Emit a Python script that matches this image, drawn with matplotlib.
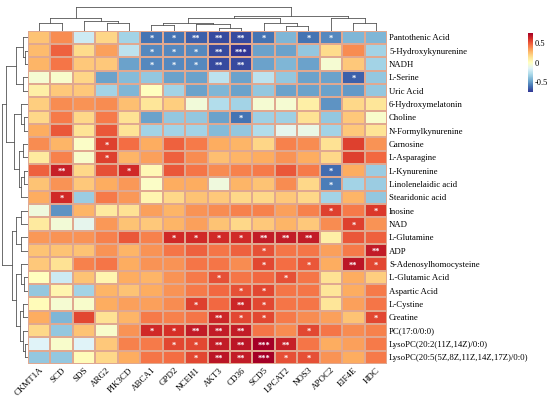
"""Clustered correlation heatmap: metabolites vs. genes, with significance stars."""

import matplotlib

matplotlib.use("Agg")

import matplotlib.pyplot as plt
import numpy as np

genes = ["CKMT1A", "SCD", "SDS", "ARG2", "PIK3CD", "ABCA1", "GPD2", "NCEH1",
         "AKT3", "CD36", "SCD5", "LPCAT2", "NOS3", "APOC2", "EIF4E", "HDC"]

metabolites = [
    "Pantothenic Acid", "5-Hydroxykynurenine", "NADH", "L-Serine", "Uric Acid",
    "6-Hydroxymelatonin", "Choline", "N-Formylkynurenine", "Carnosine",
    "L-Asparagine", "L-Kynurenine", "Linolenelaidic acid", "Stearidonic acid",
    "Inosine", "NAD", "L-Glutamine", "ADP", "S-Adenosylhomocysteine",
    "L-Glutamic Acid", "Aspartic Acid", "L-Cystine", "Creatine", "PC(17:0/0:0)",
    "LysoPC(20:2(11Z,14Z)/0:0)", "LysoPC(20:5(5Z,8Z,11Z,14Z,17Z)/0:0)",
]

corr = np.array([
    [0.24, 0.38, -0.20, 0.18, -0.32, -0.60, -0.60, -0.65, -0.70, -0.70, -0.60, -0.42, -0.60, -0.55, -0.42, -0.42],
    [0.26, 0.48, 0.16, 0.33, -0.25, -0.55, -0.55, -0.55, -0.70, -0.80, -0.48, -0.48, -0.36, 0.16, 0.38, -0.32],
    [0.28, 0.43, 0.22, 0.22, -0.48, -0.55, -0.55, -0.55, -0.70, -0.70, -0.48, -0.42, -0.48, -0.05, 0.22, -0.32],
    [-0.05, -0.03, 0.18, -0.48, -0.40, -0.36, -0.48, -0.48, -0.25, -0.48, -0.25, -0.36, -0.48, -0.48, -0.65, -0.36],
    [0.08, 0.22, 0.22, -0.32, -0.42, 0.00, -0.32, -0.48, -0.42, -0.48, -0.36, -0.48, -0.48, -0.48, -0.50, -0.36],
    [0.20, 0.38, 0.36, 0.38, 0.25, 0.12, 0.20, -0.07, -0.28, -0.32, -0.05, -0.05, 0.08, -0.52, 0.17, 0.12],
    [0.17, 0.42, 0.17, 0.42, 0.14, -0.48, -0.36, -0.36, -0.48, -0.60, -0.33, -0.33, 0.14, -0.36, 0.22, -0.03],
    [0.30, 0.50, 0.13, 0.50, 0.13, -0.32, -0.32, -0.32, -0.40, -0.36, -0.28, -0.12, -0.10, -0.32, 0.22, 0.13],
    [0.38, 0.28, -0.02, 0.56, 0.45, 0.30, 0.48, 0.42, 0.30, 0.28, 0.18, 0.40, 0.38, 0.14, 0.56, 0.36],
    [0.10, 0.40, -0.03, 0.56, 0.28, 0.33, 0.48, 0.38, 0.25, 0.28, 0.30, 0.36, 0.30, 0.17, 0.56, 0.46],
    [0.48, 0.65, 0.17, 0.52, 0.62, 0.03, 0.50, 0.43, 0.38, 0.40, 0.42, 0.50, 0.42, -0.62, 0.30, -0.34],
    [0.24, 0.36, 0.22, 0.30, 0.35, -0.02, 0.30, 0.30, -0.08, 0.28, 0.24, 0.38, 0.17, -0.58, -0.32, -0.34],
    [0.30, 0.62, -0.34, 0.42, 0.35, 0.05, 0.17, 0.24, 0.22, 0.17, 0.17, 0.22, 0.17, -0.32, 0.28, -0.36],
    [-0.08, -0.52, 0.28, 0.10, 0.14, 0.33, 0.28, 0.36, 0.38, 0.40, 0.40, 0.33, 0.40, 0.56, 0.42, 0.58],
    [0.10, -0.06, -0.12, 0.35, 0.24, 0.22, 0.28, 0.33, 0.24, 0.17, 0.22, 0.28, 0.22, 0.38, 0.56, 0.36],
    [0.35, 0.36, 0.36, 0.40, 0.50, 0.40, 0.62, 0.62, 0.62, 0.62, 0.66, 0.66, 0.66, 0.08, 0.50, 0.48],
    [0.24, 0.24, 0.24, 0.36, 0.28, 0.36, 0.43, 0.48, 0.43, 0.48, 0.52, 0.43, 0.43, 0.33, 0.42, 0.66],
    [0.22, 0.14, 0.40, 0.43, 0.30, 0.36, 0.36, 0.43, 0.43, 0.38, 0.54, 0.45, 0.50, 0.30, 0.68, 0.54],
    [0.00, -0.20, 0.24, 0.05, 0.30, 0.28, 0.36, 0.42, 0.52, 0.43, 0.46, 0.52, 0.43, 0.14, 0.30, 0.20],
    [-0.36, 0.05, -0.32, 0.28, 0.24, 0.30, 0.36, 0.42, 0.46, 0.52, 0.54, 0.43, 0.43, 0.12, 0.30, 0.42],
    [0.02, -0.05, -0.03, 0.30, 0.33, 0.33, 0.38, 0.56, 0.46, 0.63, 0.54, 0.43, 0.43, 0.12, 0.33, 0.43],
    [0.30, -0.42, 0.54, 0.14, 0.28, 0.42, 0.40, 0.43, 0.63, 0.54, 0.54, 0.42, 0.38, 0.33, 0.24, 0.54],
    [0.17, -0.36, 0.24, -0.03, 0.36, 0.62, 0.60, 0.66, 0.66, 0.66, 0.43, 0.38, 0.54, 0.43, 0.38, 0.40],
    [-0.15, -0.03, -0.15, 0.22, 0.40, 0.42, 0.54, 0.54, 0.66, 0.68, 0.75, 0.65, 0.43, 0.30, 0.33, 0.42],
    [-0.36, -0.36, 0.02, 0.17, 0.30, 0.43, 0.45, 0.54, 0.68, 0.66, 0.75, 0.52, 0.52, 0.36, 0.30, 0.42],
])

# significance stars as (row, col, label)
stars = [
    (0, 5, "*"), (0, 6, "*"), (0, 7, "**"), (0, 8, "**"), (0, 9, "**"), (0, 10, "*"), (0, 12, "*"), (0, 13, "*"),
    (1, 5, "*"), (1, 6, "*"), (1, 7, "*"), (1, 8, "**"), (1, 9, "***"),
    (2, 5, "*"), (2, 6, "*"), (2, 7, "*"), (2, 8, "**"), (2, 9, "**"),
    (3, 14, "*"), (6, 9, "*"), (8, 3, "*"), (9, 3, "*"),
    (10, 1, "**"), (10, 4, "*"), (10, 13, "*"), (11, 13, "*"), (12, 1, "*"),
    (13, 13, "*"), (13, 15, "*"), (14, 14, "*"),
    (15, 6, "*"), (15, 7, "*"), (15, 8, "*"), (15, 9, "*"), (15, 10, "**"), (15, 11, "**"), (15, 12, "**"),
    (16, 10, "*"), (16, 15, "**"),
    (17, 10, "*"), (17, 12, "*"), (17, 14, "**"), (17, 15, "*"),
    (18, 8, "*"), (18, 11, "*"), (19, 9, "*"), (19, 10, "*"),
    (20, 7, "*"), (20, 9, "**"), (20, 10, "*"),
    (21, 8, "**"), (21, 9, "*"), (21, 10, "*"), (21, 15, "*"),
    (22, 5, "*"), (22, 6, "*"), (22, 7, "**"), (22, 8, "**"), (22, 9, "**"), (22, 12, "*"),
    (23, 6, "*"), (23, 7, "*"), (23, 8, "**"), (23, 9, "**"), (23, 10, "***"), (23, 11, "**"),
    (24, 7, "*"), (24, 8, "**"), (24, 9, "**"), (24, 10, "***"), (24, 11, "*"), (24, 12, "*"),
]

# dendrograms: leaf = index, node = (left, right, height)
col_tree = (
    ((0, 1, 0.28), (2, (3, 4, 0.28), 0.35), 0.46),
    (((((5, 6, 0.21), (7, (8, 9, 0.10), 0.24), 0.28), (10, (11, 12, 0.17), 0.28), 0.46)),
     (13, (14, 15, 0.28), 0.46), 0.53),
    0.86,
)
row_tree = (
    (((0, (1, 2, 0.10), 0.20), (3, 4, 0.20), 0.45),
     ((5, (6, 7, 0.15), 0.25), ((8, 9, 0.20), ((10, 11, 0.15), 12, 0.25), 0.35), 0.50), 0.80),
    (((13, 14, 0.25), (15, 16, 0.25), 0.45),
     ((17, (18, 19, 0.15), 0.25), ((20, 21, 0.20), (22, (23, 24, 0.10), 0.20), 0.30), 0.45), 0.60),
    0.95,
)

W, H = 550, 398
HM_LEFT, HM_RIGHT, HM_TOP, HM_BOTTOM = 28, 387, 30.7, 364


def frac_box(x0, y0, x1, y1):
    return [x0 / W, 1 - y1 / H, (x1 - x0) / W, (y1 - y0) / H]


def dendro_segments(node):
    """Return (position, height, segments) for a nested tree."""
    if isinstance(node, int):
        return node + 0.5, 0.0, []
    left, right, h = node
    px, hl, sl = dendro_segments(left)
    qx, hr, sr = dendro_segments(right)
    segs = sl + sr + [((px, hl), (px, h)), ((px, h), (qx, h)), ((qx, h), (qx, hr))]
    return (px + qx) / 2, h, segs


plt.rcParams["font.family"] = ["Liberation Serif", "DejaVu Serif"]
fig = plt.figure(figsize=(W / 100, H / 100), dpi=100)

ax = fig.add_axes(frac_box(HM_LEFT, HM_TOP, HM_RIGHT, HM_BOTTOM))
mesh = ax.pcolormesh(corr, cmap="RdYlBu_r", vmin=-0.75, vmax=0.75,
                     edgecolors="#e0a890", linewidth=0.3)
ax.set_xlim(0, len(genes))
ax.set_ylim(len(metabolites), 0)
for r, c, lab in stars:
    ax.text(c + 0.5, r + 0.62, lab, ha="center", va="center", color="white",
            fontsize=6, fontweight="bold")
ax.set_xticks(np.arange(len(genes)) + 0.5)
ax.set_xticklabels(genes, rotation=45, ha="right", va="top", rotation_mode="anchor", fontsize=6.5)
ax.set_yticks(np.arange(len(metabolites)) + 0.5)
ax.set_yticklabels(metabolites, fontsize=6.3)
ax.yaxis.tick_right()
ax.tick_params(length=0, pad=1.5)
for s in ax.spines.values():
    s.set_visible(False)

# column dendrogram
axc = fig.add_axes(frac_box(HM_LEFT, 3, HM_RIGHT, HM_TOP))
_, _, segs = dendro_segments(col_tree)
for (x0, y0), (x1, y1) in segs:
    axc.plot([x0, x1], [y0, y1], color="#555555", lw=0.6)
axc.set_xlim(0, len(genes))
axc.set_ylim(0, 1.0)
axc.axis("off")

# row dendrogram
axr = fig.add_axes(frac_box(1, HM_TOP, HM_LEFT, HM_BOTTOM))
_, _, segs = dendro_segments(row_tree)
for (y0, x0), (y1, x1) in segs:
    axr.plot([x0, x1], [y0, y1], color="#555555", lw=0.6)
axr.set_ylim(len(metabolites), 0)
axr.set_xlim(1.0, 0)
axr.axis("off")

# colorbar
axb = fig.add_axes(frac_box(528, 33, 533, 92))
cb = fig.colorbar(mesh, cax=axb, ticks=[-0.5, 0, 0.5])
cb.ax.set_yticklabels(["-0.5", "0", "0.5"], fontsize=6)
cb.ax.tick_params(length=0, pad=1.5)
cb.outline.set_visible(False)

fig.savefig("out.png", dpi=100)
